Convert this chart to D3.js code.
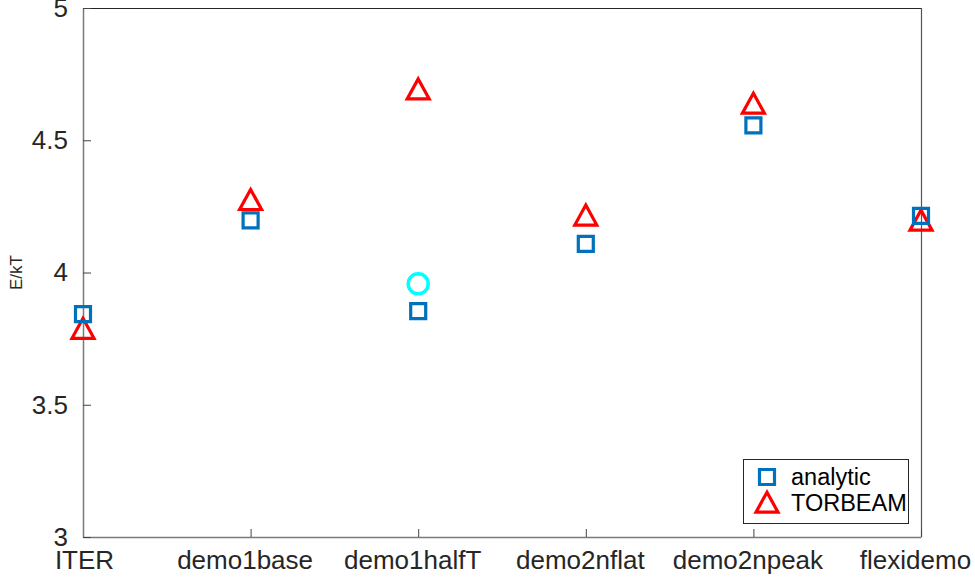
<!DOCTYPE html>
<html>
<head>
<meta charset="utf-8">
<script src="https://cdn.jsdelivr.net/npm/d3@7"></script>
<style>
  html, body { margin: 0; padding: 0; background: #fff; }
  svg { display: block; font-family: "Liberation Sans", Arial, Helvetica, sans-serif; }
</style>
</head>
<body>
<svg id="chart" width="975" height="579"></svg>
<script>
// Cases along the x axis
const categories = ["ITER", "demo1base", "demo1halfT", "demo2nflat", "demo2npeak", "flexidemo"];
// E/kT from the analytic estimate
const analytic = [3.843, 4.197, 3.854, 4.108, 4.556, 4.214];
// E/kT from TORBEAM
const torbeam = [3.786, 4.273, 4.691, 4.214, 4.637, 4.195];
// Extra single point (circle) for demo1halfT
const extraCategory = ["demo1halfT"];
const extraValue = [3.957];
// Y tick values
const yTicks = [3, 3.5, 4, 4.5, 5];
const yTickLabels = ["3", "3.5", "4", "4.5", "5"];
const legendLabels = ["analytic", "TORBEAM"];

const svg = d3.select("#chart");
const mLeft = 83, mRight = 921, mTop = 8, mBottom = 537;

const x = d3.scalePoint().domain(categories).range([mLeft, mRight]);
const y = d3.scaleLinear().domain([3, 5]).range([mBottom, mTop]);

const blue = "#0072BD", red = "#FF0000", cyan = "#00FFFF";
const axisGray = "#262626";

// box: top and right edges
svg.append("line").attr("x1", mLeft).attr("x2", mRight).attr("y1", mTop + 0.5).attr("y2", mTop + 0.5)
  .attr("stroke", axisGray).attr("stroke-width", 1.2);
svg.append("line").attr("x1", mRight + 0.5).attr("x2", mRight + 0.5).attr("y1", mTop).attr("y2", mBottom)
  .attr("stroke", "#555").attr("stroke-width", 1.2);

// x axis
const xAxis = d3.axisBottom(x).tickSizeInner(-8).tickSizeOuter(0).tickPadding(14);
const gx = svg.append("g").attr("transform", `translate(0,${mBottom})`).call(xAxis);
gx.select(".domain").attr("stroke", "#7a7a7a").attr("stroke-width", 1.5);
gx.selectAll(".tick line").attr("stroke", "#444");
gx.selectAll(".tick text").attr("fill", axisGray).attr("font-size", 26)
  .attr("font-family", "Liberation Sans, Arial, sans-serif")
  .attr("dx", (d, i) => i === 0 ? 1 : -6);

// y axis
const yAxis = d3.axisLeft(y).tickValues(yTicks).tickFormat((d, i) => yTickLabels[i])
  .tickSizeInner(-8).tickSizeOuter(0).tickPadding(15);
const gy = svg.append("g").attr("transform", `translate(${mLeft},0)`).call(yAxis);
gy.select(".domain").attr("stroke", "#7a7a7a").attr("stroke-width", 1.5);
gy.selectAll(".tick line").attr("stroke", "#444");
gy.selectAll(".tick text").attr("fill", axisGray).attr("font-size", 26)
  .attr("font-family", "Liberation Sans, Arial, sans-serif");

// y axis title
svg.append("text").attr("transform", `translate(22,${(mTop + mBottom) / 2}) rotate(-90)`)
  .attr("text-anchor", "middle").attr("font-size", 17).attr("fill", axisGray).text("E/kT");

// marker shapes
const squarePath = s => `M${-s / 2},${-s / 2}H${s / 2}V${s / 2}H${-s / 2}Z`;
const trianglePath = (hw, h) => `M0,${-h / 2 - 0.8}L${hw},${h / 2 - 0.8}L${-hw},${h / 2 - 0.8}Z`;

const plot = svg.append("g");

// TORBEAM triangles
plot.selectAll(".tri").data(torbeam).join("path")
  .attr("class", "tri")
  .attr("transform", (d, i) => `translate(${x(categories[i])},${y(d)})`)
  .attr("d", trianglePath(11, 20))
  .attr("fill", "none").attr("stroke", red).attr("stroke-width", 3.2)
  .attr("stroke-linejoin", "miter");

// analytic squares
plot.selectAll(".sq").data(analytic).join("path")
  .attr("class", "sq")
  .attr("transform", (d, i) => `translate(${x(categories[i])},${y(d)})`)
  .attr("d", squarePath(15))
  .attr("fill", "none").attr("stroke", blue).attr("stroke-width", 3.2);

// extra circle
plot.selectAll(".circ").data(extraValue).join("circle")
  .attr("class", "circ")
  .attr("cx", (d, i) => x(extraCategory[i]))
  .attr("cy", d => y(d))
  .attr("r", 10)
  .attr("fill", "none").attr("stroke", cyan).attr("stroke-width", 3.5);

// legend
const lg = svg.append("g");
lg.append("rect").attr("x", 743.5).attr("y", 459.5).attr("width", 165).attr("height", 64)
  .attr("fill", "#fff").attr("stroke", axisGray).attr("stroke-width", 1);
lg.append("path").attr("transform", "translate(767,477)").attr("d", squarePath(15))
  .attr("fill", "none").attr("stroke", blue).attr("stroke-width", 3.2);
lg.append("path").attr("transform", "translate(767,503)").attr("d", trianglePath(11, 20))
  .attr("fill", "none").attr("stroke", red).attr("stroke-width", 3.2);
lg.selectAll("text").data(legendLabels).join("text")
  .attr("x", 791).attr("y", (d, i) => 485 + i * 26)
  .attr("font-size", 23.5).attr("fill", "#000").text(d => d);
</script>
</body>
</html>
